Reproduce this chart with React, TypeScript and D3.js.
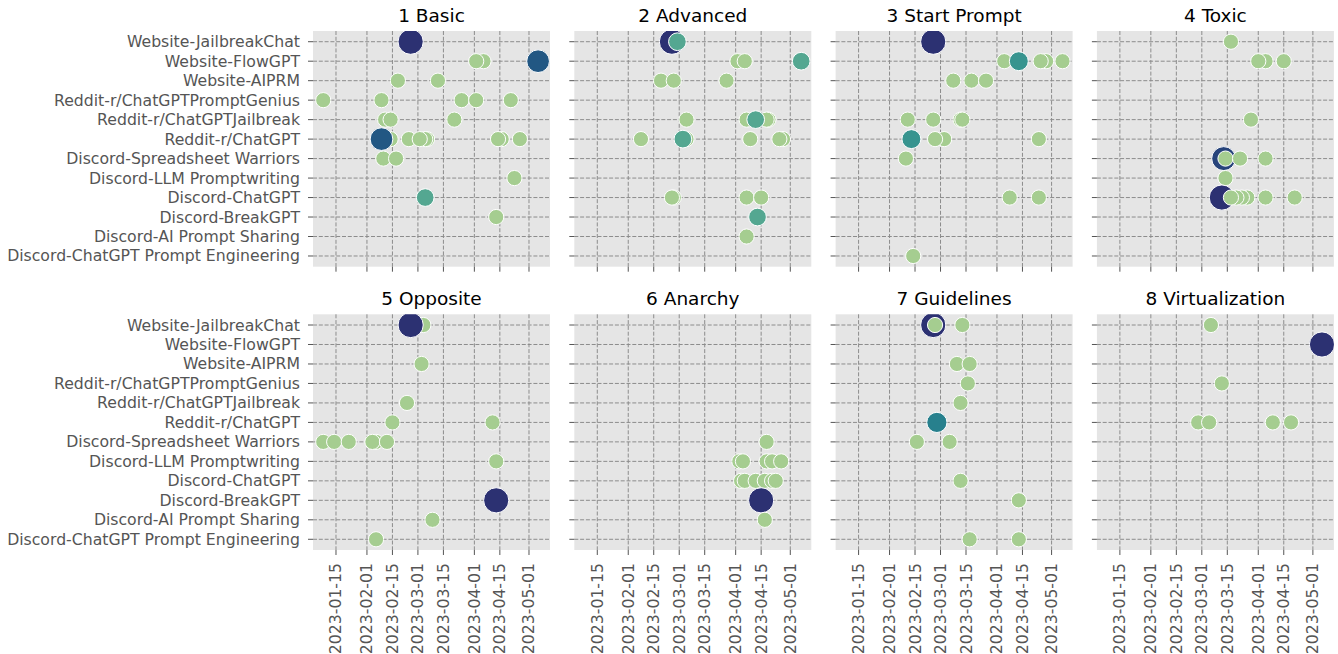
import * as d3 from "d3";
import React from "react";

// y categories (top to bottom)
const sources = [
  "Website-JailbreakChat",
  "Website-FlowGPT",
  "Website-AIPRM",
  "Reddit-r/ChatGPTPromptGenius",
  "Reddit-r/ChatGPTJailbreak",
  "Reddit-r/ChatGPT",
  "Discord-Spreadsheet Warriors",
  "Discord-LLM Promptwriting",
  "Discord-ChatGPT",
  "Discord-BreakGPT",
  "Discord-AI Prompt Sharing",
  "Discord-ChatGPT Prompt Engineering",
];

const techniques = [
  "1 Basic",
  "2 Advanced",
  "3 Start Prompt",
  "4 Toxic",
  "5 Opposite",
  "6 Anarchy",
  "7 Guidelines",
  "8 Virtualization",
];

const dateTicks = [
  "2023-01-15",
  "2023-02-01",
  "2023-02-15",
  "2023-03-01",
  "2023-03-15",
  "2023-04-01",
  "2023-04-15",
  "2023-05-01",
];

// [source index, date, count]
type Pt = [number, string, number];

const basic: Pt[] = [
  [0, "2023-02-25", 9],
  [1, "2023-04-06", 1], [1, "2023-04-02", 1], [1, "2023-05-06", 7],
  [2, "2023-02-18", 1], [2, "2023-03-12", 1],
  [3, "2023-01-08", 1], [3, "2023-02-09", 1], [3, "2023-03-25", 1], [3, "2023-04-02", 1], [3, "2023-04-21", 1],
  [4, "2023-02-11", 1], [4, "2023-02-14", 1], [4, "2023-03-21", 1],
  [5, "2023-02-14", 1], [5, "2023-02-09", 7], [5, "2023-02-24", 1], [5, "2023-03-06", 1], [5, "2023-03-05", 1],
  [5, "2023-03-02", 1], [5, "2023-04-16", 1], [5, "2023-04-14", 1], [5, "2023-04-26", 1],
  [6, "2023-02-10", 1], [6, "2023-02-17", 1],
  [7, "2023-04-23", 1],
  [8, "2023-03-05", 3],
  [9, "2023-04-13", 1],
];

const advanced: Pt[] = [
  [0, "2023-02-25", 9], [0, "2023-02-28", 3],
  [1, "2023-04-02", 1], [1, "2023-04-06", 1], [1, "2023-05-07", 3],
  [2, "2023-02-19", 1], [2, "2023-02-26", 1], [2, "2023-03-27", 1],
  [4, "2023-03-05", 1], [4, "2023-04-19", 1], [4, "2023-04-18", 1], [4, "2023-04-07", 1], [4, "2023-04-12", 3],
  [5, "2023-02-08", 1], [5, "2023-03-05", 1], [5, "2023-03-03", 3], [5, "2023-04-09", 1], [5, "2023-04-27", 1],
  [5, "2023-04-25", 1],
  [8, "2023-02-26", 1], [8, "2023-02-25", 1], [8, "2023-04-07", 1], [8, "2023-04-15", 1],
  [9, "2023-04-13", 3],
  [10, "2023-04-07", 1],
];

const startPrompt: Pt[] = [
  [0, "2023-02-25", 9],
  [1, "2023-04-05", 1], [1, "2023-04-13", 4], [1, "2023-04-28", 1], [1, "2023-04-25", 1], [1, "2023-05-07", 1],
  [2, "2023-03-08", 1], [2, "2023-03-18", 1], [2, "2023-03-26", 1],
  [4, "2023-02-11", 1], [4, "2023-02-25", 1], [4, "2023-03-12", 1], [4, "2023-03-13", 1],
  [5, "2023-02-13", 4], [5, "2023-03-03", 1], [5, "2023-02-26", 1], [5, "2023-04-24", 1],
  [6, "2023-02-10", 1],
  [8, "2023-04-08", 1], [8, "2023-04-24", 1],
  [11, "2023-02-14", 1],
];

const toxic: Pt[] = [
  [0, "2023-03-17", 1],
  [1, "2023-04-05", 1], [1, "2023-04-01", 1], [1, "2023-04-15", 1],
  [4, "2023-03-28", 1],
  [6, "2023-03-13", 8], [6, "2023-03-14", 1], [6, "2023-03-22", 1], [6, "2023-04-05", 1],
  [7, "2023-03-14", 1],
  [8, "2023-03-12", 9], [8, "2023-03-26", 1], [8, "2023-03-23", 1], [8, "2023-03-20", 1], [8, "2023-03-17", 1],
  [8, "2023-04-05", 1], [8, "2023-04-21", 1],
];

const opposite: Pt[] = [
  [0, "2023-03-04", 1], [0, "2023-02-25", 9],
  [2, "2023-03-03", 1],
  [4, "2023-02-23", 1],
  [5, "2023-02-15", 1], [5, "2023-04-11", 1],
  [6, "2023-01-08", 1], [6, "2023-01-14", 1], [6, "2023-01-22", 1], [6, "2023-02-06", 1], [6, "2023-02-04", 1],
  [6, "2023-02-12", 1],
  [7, "2023-04-13", 1],
  [9, "2023-04-13", 9],
  [10, "2023-03-09", 1],
  [11, "2023-02-06", 1],
];

const anarchy: Pt[] = [
  [6, "2023-04-18", 1],
  [7, "2023-04-03", 1], [7, "2023-04-05", 1], [7, "2023-04-18", 1], [7, "2023-04-21", 1], [7, "2023-04-26", 1],
  [8, "2023-04-04", 1], [8, "2023-04-06", 1], [8, "2023-04-12", 1], [8, "2023-04-17", 1], [8, "2023-04-21", 1],
  [8, "2023-04-23", 1],
  [9, "2023-04-15", 9],
  [10, "2023-04-17", 1],
];

const guidelines: Pt[] = [
  [0, "2023-02-25", 9], [0, "2023-02-26", 1], [0, "2023-03-13", 1],
  [2, "2023-03-10", 1], [2, "2023-03-17", 1],
  [3, "2023-03-16", 1],
  [4, "2023-03-12", 1],
  [5, "2023-02-27", 5],
  [6, "2023-02-16", 1], [6, "2023-03-06", 1],
  [8, "2023-03-12", 1],
  [9, "2023-04-13", 1],
  [11, "2023-03-17", 1], [11, "2023-04-13", 1],
];

const virtualization: Pt[] = [
  [0, "2023-03-06", 1],
  [1, "2023-05-06", 9],
  [3, "2023-03-12", 1],
  [5, "2023-02-27", 1], [5, "2023-03-05", 1], [5, "2023-04-09", 1], [5, "2023-04-19", 1],
];

const panels = [basic, advanced, startPrompt, toxic, opposite, anarchy, guidelines, virtualization];

// seaborn "crest"
const crest = ["#a5cd90", "#6db592", "#3a9a90", "#24808d", "#1f6488", "#254a7f", "#2c3172"];

const W = 1338;
const H = 654;
const plotW = 237;
const plotH = 235.7;
const lefts = [313, 574.3, 835.6, 1096.9];
const tops = [31, 314.3];
const FONT = "DejaVu Sans, sans-serif";
const TICK_FS = 15.7;

const parse = d3.utcParse("%Y-%m-%d");

const x = d3
  .scaleUtc()
  .domain([new Date(Date.UTC(2023, 0, 2, 9)), new Date(Date.UTC(2023, 4, 12, 13))])
  .range([0, plotW]);

const y = d3.scalePoint<string>().domain(sources).range([0, plotH]).padding(0.55);

const color = d3.scaleSequential(d3.interpolateRgbBasis(crest)).domain([1, 9]);
const radius = d3.scaleLinear().domain([1, 9]).range([7.6, 12.6]);

const Panel = ({ i }: { i: number }) => {
  const col = i % 4;
  const row = Math.floor(i / 4);
  const data = panels[i];
  const clipId = `clip-${i}`;
  return (
    <g transform={`translate(${lefts[col]},${tops[row]})`}>
      <defs>
        <clipPath id={clipId}>
          <rect width={plotW} height={plotH} />
        </clipPath>
      </defs>
      <rect width={plotW} height={plotH} fill="#e5e5e5" />
      {dateTicks.map((d) => (
        <line
          key={d}
          x1={x(parse(d)!)}
          x2={x(parse(d)!)}
          y1={0}
          y2={plotH}
          stroke="#8c8c8c"
          strokeWidth={1}
          strokeDasharray="4,1.8"
        />
      ))}
      {sources.map((s) => (
        <line
          key={s}
          x1={0}
          x2={plotW}
          y1={y(s)}
          y2={y(s)}
          stroke="#8c8c8c"
          strokeWidth={1}
          strokeDasharray="4,1.8"
        />
      ))}
      {/* ticks */}
      {sources.map((s) => (
        <line key={s} x1={-5} x2={0} y1={y(s)} y2={y(s)} stroke="#555" strokeWidth={1} />
      ))}
      {dateTicks.map((d) => (
        <line
          key={d}
          x1={x(parse(d)!)}
          x2={x(parse(d)!)}
          y1={plotH}
          y2={plotH + 5}
          stroke="#555"
          strokeWidth={1}
        />
      ))}
      {col === 0 &&
        sources.map((s) => (
          <text
            key={s}
            x={-13}
            y={y(s)}
            dy="0.35em"
            textAnchor="end"
            fontSize={TICK_FS}
            fill="#555"
            fontFamily={FONT}
          >
            {s}
          </text>
        ))}
      {row === 1 &&
        dateTicks.map((d) => (
          <text
            key={d}
            transform={`translate(${x(parse(d)!)},${plotH + 13}) rotate(-90)`}
            dy="0.35em"
            textAnchor="end"
            fontSize={TICK_FS}
            fill="#555"
            fontFamily={FONT}
          >
            {d}
          </text>
        ))}
      <g clipPath={`url(#${clipId})`}>
        {data.map(([s, d, c], k) => (
          <circle
            key={k}
            cx={x(parse(d)!)}
            cy={y(sources[s])}
            r={radius(c)}
            fill={color(c)}
            stroke="#fff"
            strokeWidth={1}
          />
        ))}
      </g>
      <text
        x={plotW / 2}
        y={-9.3}
        textAnchor="middle"
        fontSize={18.5}
        fill="#000"
        fontFamily={FONT}
      >
        {techniques[i]}
      </text>
    </g>
  );
};

export default function App() {
  return (
    <svg
      width={W}
      height={H}
      style={{ position: "absolute", left: 0, top: 0, background: "#fff" }}
    >
      {techniques.map((_, i) => (
        <Panel key={i} i={i} />
      ))}
    </svg>
  );
}
